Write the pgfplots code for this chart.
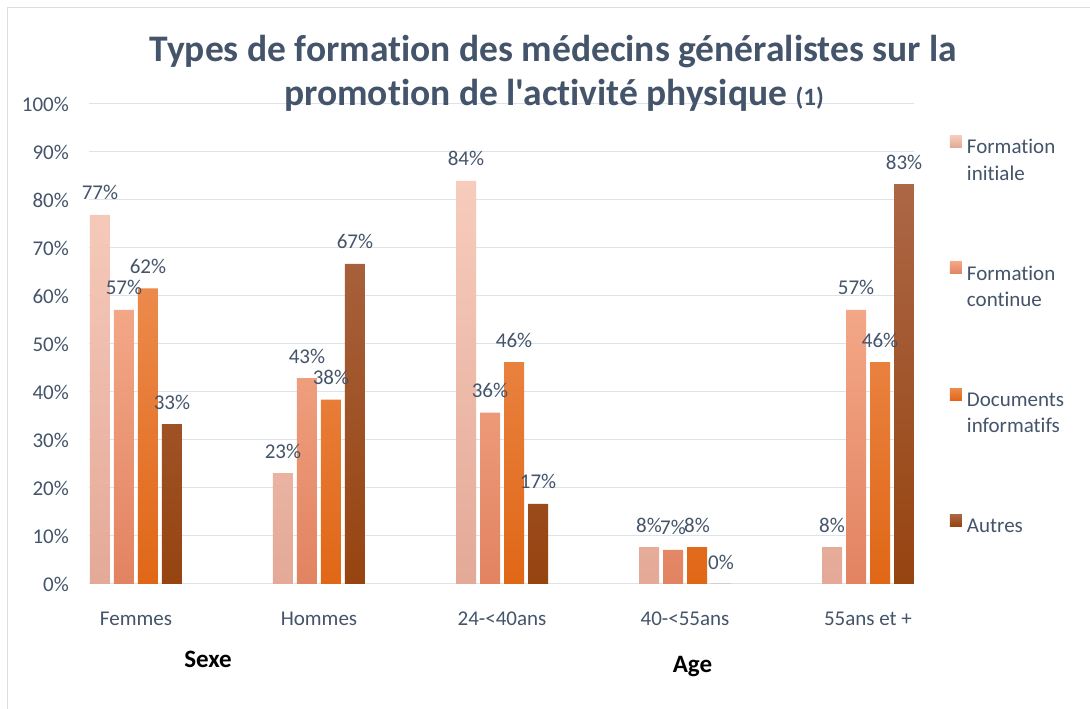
\documentclass[border=0pt]{standalone}
\usepackage{pgfplots}
\pgfplotsset{compat=1.18}
\usepackage{pgfplotstable}
\usepackage{fontspec}
\setmainfont{Carlito}[Ligatures={TeXOff,NoCommon,NoContextual}]
\definecolor{txt}{RGB}{68,84,106}
\definecolor{gridc}{RGB}{221,226,235}
\definecolor{borderc}{RGB}{218,222,228}
\definecolor{fiT}{RGB}{247,204,189}
\definecolor{fiB}{RGB}{228,169,151}
\definecolor{fcT}{RGB}{243,167,135}
\definecolor{fcB}{RGB}{226,131,97}
\definecolor{diT}{RGB}{236,138,76}
\definecolor{diB}{RGB}{224,103,22}
\definecolor{auT}{RGB}{172,103,70}
\definecolor{auB}{RGB}{150,68,16}
\newcommand{\lbl}{\fontsize{21bp}{26.5bp}\selectfont}
\pgfplotsset{/pgf/number format/assume math mode=true}

\pgfplotstableread{
x fi fc di au
0 76.9 57.1 61.6 33.3
1 23.1 42.9 38.4 66.7
2 84.0 35.7 46.2 16.7
3 7.7 7.1 7.7 0
4 7.7 57.1 46.2 83.3
}\data

\begin{document}
\begin{tikzpicture}
\useasboundingbox (0,0) rectangle (1090bp,709bp);
\fill[white] (0,0) rectangle (1090bp,709bp);
\draw[line width=1bp, color=borderc] (7.5bp,0) -- (7.5bp,701.5bp) -- (1090bp,701.5bp);
\begin{axis}[
  at={(89bp,125bp)}, anchor=south west, scale only axis,
  width=825bp, height=480bp,
  xmin=-0.2568, xmax=4.2514, ymin=0, ymax=100,
  ybar=4bp, bar width=20bp,
  axis x line*=bottom, axis y line*=left,
  y axis line style={draw=none},
  x axis line style={-, draw=gridc, line width=1bp},
  major tick length=0pt,
  ytick={0,10,...,100},
  yticklabel={\pgfmathprintnumber{\tick}\%},
  xtick={0,1,2,3,4},
  xticklabels={Femmes,Hommes,24-<40ans,40-<55ans,55ans et +},
  ymajorgrids, grid style={draw=gridc, line width=1bp},
  tick label style={font=\lbl, text=txt, inner sep=0pt},
  yticklabel style={anchor=east, xshift=-20bp},
  xticklabel style={anchor=base, yshift=-42bp},
  nodes near coords={\pgfmathprintnumber[fixed,precision=0]{\pgfplotspointmeta}\%},
  every node near coord/.append style={font=\lbl, text=txt, anchor=center, yshift=22bp, inner sep=0pt},
  legend style={at={(rel axis cs:1.0436,0.935)}, anchor=north west,
    draw=none, fill=none, inner sep=0pt, outer sep=0pt,
    row sep=106.5bp, column sep=5bp,
    cells={anchor=base west},
    nodes={inner sep=0pt, font=\lbl, text=txt}},
  legend cell align=left,
  myleg/.style={legend image code/.code={\path[##1, draw=none] (0bp,0bp) rectangle (12bp,12bp);}},
]
\addplot[draw=none, top color=fiT, bottom color=fiB, myleg] table[x=x,y=fi]{\data};
\addlegendentry{\parbox[t]{100bp}{\raggedright Formation\\initiale}}
\addplot[draw=none, top color=fcT, bottom color=fcB, myleg] table[x=x,y=fc]{\data};
\addlegendentry{\parbox[t]{100bp}{\raggedright Formation\\continue}}
\addplot[draw=none, top color=diT, bottom color=diB, myleg] table[x=x,y=di]{\data};
\addlegendentry{\parbox[t]{100bp}{\raggedright Documents\\informatifs}}
\addplot[draw=none, top color=auT, bottom color=auB, myleg] table[x=x,y=au]{\data};
\addlegendentry{Autres}
\end{axis}
\node[anchor=base, font=\fontsize{37.5bp}{44bp}\selectfont\bfseries, text=txt] at (553.5bp,647bp) {Types de formation des médecins généralistes sur la};
\node[anchor=base, font=\fontsize{37.5bp}{44bp}\selectfont\bfseries, text=txt] at (554bp,603bp) {promotion de l'activité physique {\fontsize{25bp}{30bp}\selectfont(1)}};
\node[anchor=base, font=\fontsize{25bp}{30bp}\selectfont\bfseries, text=black] at (208bp,41bp) {Sexe};
\node[anchor=base, font=\fontsize{25bp}{30bp}\selectfont\bfseries, text=black] at (692.5bp,37bp) {Age};
\end{tikzpicture}
\end{document}
